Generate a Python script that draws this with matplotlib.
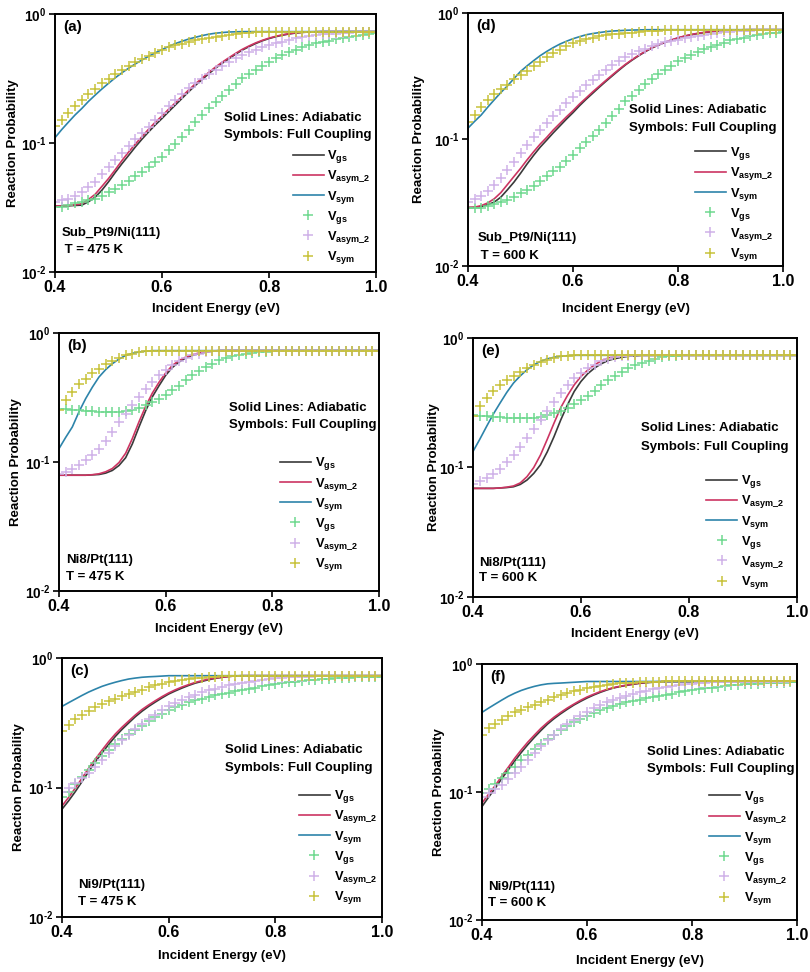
import numpy as np
import matplotlib
matplotlib.use("Agg")
import matplotlib.pyplot as plt
from matplotlib.ticker import FixedLocator, FuncFormatter, NullLocator

plt.rcParams['font.family'] = ['Liberation Sans', 'DejaVu Sans']
plt.rcParams['font.weight'] = 'bold'
plt.rcParams['mathtext.fontset'] = 'custom'
plt.rcParams['mathtext.rm'] = 'Liberation Sans:bold'
plt.rcParams['mathtext.it'] = 'Liberation Sans:bold'
plt.rcParams['mathtext.bf'] = 'Liberation Sans:bold'

# incident energy grid (eV), one point per symbol
energy = [0.4, 0.4125, 0.425, 0.4375, 0.45, 0.4625, 0.475, 0.4875, 0.5, 0.5125,
          0.525, 0.5375, 0.55, 0.5625, 0.575, 0.5875, 0.6, 0.6125, 0.625, 0.6375,
          0.65, 0.6625, 0.675, 0.6875, 0.7, 0.7125, 0.725, 0.7375, 0.75, 0.7625,
          0.775, 0.7875, 0.8, 0.8125, 0.825, 0.8375, 0.85, 0.8625, 0.875, 0.8875,
          0.9, 0.9125, 0.925, 0.9375, 0.95, 0.9625, 0.975, 0.9875, 1.0]

# (a) Sub_Pt9/Ni(111), 475 K
a_gs_line = [0.0324, 0.0324, 0.0326, 0.0328, 0.033, 0.035, 0.038, 0.043, 0.050, 0.059,
             0.069, 0.080, 0.093, 0.107, 0.122, 0.138, 0.155, 0.175, 0.197, 0.222,
             0.25, 0.28, 0.31, 0.345, 0.38, 0.415, 0.45, 0.488, 0.525, 0.558,
             0.59, 0.62, 0.645, 0.667, 0.685, 0.70, 0.712, 0.72, 0.725, 0.728,
             0.73, 0.73, 0.73, 0.73, 0.73, 0.73, 0.73, 0.73, 0.73]
a_asym_line = [0.0325, 0.0325, 0.0328, 0.0332, 0.0338, 0.0365, 0.040, 0.046, 0.053, 0.062,
               0.073, 0.085, 0.098, 0.112, 0.128, 0.145, 0.162, 0.183, 0.205, 0.23,
               0.258, 0.288, 0.318, 0.353, 0.388, 0.423, 0.458, 0.495, 0.532, 0.565,
               0.597, 0.625, 0.65, 0.671, 0.69, 0.704, 0.715, 0.722, 0.727, 0.729,
               0.73, 0.73, 0.73, 0.73, 0.73, 0.73, 0.73, 0.73, 0.73]
a_sym_line = [0.110, 0.127, 0.145, 0.165, 0.185, 0.21, 0.235, 0.262, 0.29, 0.32,
              0.35, 0.38, 0.41, 0.44, 0.47, 0.50, 0.53, 0.56, 0.59, 0.615,
              0.64, 0.66, 0.68, 0.697, 0.71, 0.718, 0.725, 0.728, 0.73, 0.73,
              0.73, 0.73, 0.73, 0.73, 0.73, 0.73, 0.73, 0.73, 0.73, 0.73,
              0.73, 0.73, 0.73, 0.73, 0.73, 0.73, 0.73, 0.73, 0.73]
a_gs_fc = [0.032, 0.032, 0.033, 0.034, 0.035, 0.036, 0.037, 0.039, 0.042, 0.044,
           0.047, 0.051, 0.055, 0.060, 0.065, 0.071, 0.078, 0.088, 0.099, 0.112,
           0.126, 0.145, 0.164, 0.186, 0.209, 0.232, 0.257, 0.287, 0.317, 0.343,
           0.37, 0.398, 0.427, 0.453, 0.48, 0.503, 0.525, 0.55, 0.575, 0.593,
           0.61, 0.623, 0.636, 0.652, 0.667, 0.677, 0.687, 0.698, 0.708]
a_asym_fc = [0.035, 0.036, 0.037, 0.039, 0.042, 0.046, 0.050, 0.057, 0.065, 0.074,
             0.083, 0.095, 0.108, 0.120, 0.133, 0.150, 0.170, 0.192, 0.215, 0.240,
             0.265, 0.290, 0.316, 0.341, 0.367, 0.396, 0.426, 0.453, 0.48, 0.503,
             0.525, 0.55, 0.575, 0.593, 0.61, 0.628, 0.647, 0.661, 0.675, 0.685,
             0.695, 0.70, 0.706, 0.711, 0.716, 0.72, 0.724, 0.727, 0.73]
a_sym_fc = [0.135, 0.152, 0.172, 0.193, 0.215, 0.238, 0.262, 0.29, 0.315, 0.34,
            0.367, 0.395, 0.425, 0.45, 0.475, 0.50, 0.525, 0.55, 0.572, 0.59,
            0.608, 0.625, 0.64, 0.655, 0.668, 0.68, 0.69, 0.70, 0.71, 0.718,
            0.724, 0.728, 0.73, 0.73, 0.73, 0.73, 0.73, 0.73, 0.73, 0.73,
            0.73, 0.73, 0.73, 0.73, 0.73, 0.73, 0.73, 0.73, 0.73]

# (b) Ni8/Pt(111), 475 K
b_gs_line = [0.079, 0.079, 0.079, 0.079, 0.079, 0.0795, 0.080, 0.082, 0.086, 0.094,
             0.108, 0.138, 0.187, 0.25, 0.32, 0.39, 0.47, 0.54, 0.596, 0.64,
             0.67, 0.693, 0.71, 0.722, 0.73, 0.73, 0.73, 0.73, 0.73, 0.73,
             0.73, 0.73, 0.73, 0.73, 0.73, 0.73, 0.73, 0.73, 0.73, 0.73,
             0.73, 0.73, 0.73, 0.73, 0.73, 0.73, 0.73, 0.73, 0.73]
b_asym_line = [0.079, 0.079, 0.079, 0.079, 0.079, 0.0797, 0.081, 0.084, 0.089, 0.099,
               0.117, 0.152, 0.205, 0.27, 0.342, 0.415, 0.49, 0.56, 0.612, 0.65,
               0.678, 0.70, 0.715, 0.725, 0.73, 0.73, 0.73, 0.73, 0.73, 0.73,
               0.73, 0.73, 0.73, 0.73, 0.73, 0.73, 0.73, 0.73, 0.73, 0.73,
               0.73, 0.73, 0.73, 0.73, 0.73, 0.73, 0.73, 0.73, 0.73]
b_sym_line = [0.127, 0.155, 0.187, 0.245, 0.31, 0.38, 0.456, 0.52, 0.578, 0.628,
              0.67, 0.695, 0.713, 0.723, 0.73, 0.73, 0.73, 0.73, 0.73, 0.73,
              0.73, 0.73, 0.73, 0.73, 0.73, 0.73, 0.73, 0.73, 0.73, 0.73,
              0.73, 0.73, 0.73, 0.73, 0.73, 0.73, 0.73, 0.73, 0.73, 0.73,
              0.73, 0.73, 0.73, 0.73, 0.73, 0.73, 0.73, 0.73, 0.73]
b_gs_fc = [0.259, 0.257, 0.255, 0.253, 0.25, 0.248, 0.246, 0.245, 0.244, 0.245,
           0.248, 0.255, 0.264, 0.276, 0.29, 0.31, 0.33, 0.36, 0.39, 0.43,
           0.47, 0.51, 0.545, 0.58, 0.614, 0.64, 0.66, 0.677, 0.69, 0.70,
           0.71, 0.717, 0.722, 0.726, 0.728, 0.73, 0.73, 0.73, 0.73, 0.73,
           0.73, 0.73, 0.73, 0.73, 0.73, 0.73, 0.73, 0.73, 0.73]
b_asym_fc = [0.081, 0.084, 0.089, 0.094, 0.103, 0.113, 0.127, 0.146, 0.171, 0.204,
             0.237, 0.275, 0.319, 0.37, 0.417, 0.47, 0.52, 0.56, 0.606, 0.64,
             0.67, 0.69, 0.71, 0.72, 0.727, 0.73, 0.73, 0.73, 0.73, 0.73,
             0.73, 0.73, 0.73, 0.73, 0.73, 0.73, 0.73, 0.73, 0.73, 0.73,
             0.73, 0.73, 0.73, 0.73, 0.73, 0.73, 0.73, 0.73, 0.73]
b_sym_fc = [0.254, 0.30, 0.35, 0.40, 0.44, 0.49, 0.53, 0.57, 0.606, 0.64,
            0.67, 0.69, 0.71, 0.72, 0.727, 0.73, 0.73, 0.73, 0.73, 0.73,
            0.73, 0.73, 0.73, 0.73, 0.73, 0.73, 0.73, 0.73, 0.73, 0.73,
            0.73, 0.73, 0.73, 0.73, 0.73, 0.73, 0.73, 0.73, 0.73, 0.73,
            0.73, 0.73, 0.73, 0.73, 0.73, 0.73, 0.73, 0.73, 0.73]

# (c) Ni9/Pt(111), 475 K
c_gs_line = [0.068, 0.079, 0.093, 0.111, 0.133, 0.158, 0.185, 0.215, 0.248, 0.281,
             0.315, 0.352, 0.388, 0.423, 0.457, 0.492, 0.527, 0.557, 0.586, 0.614,
             0.64, 0.66, 0.68, 0.696, 0.71, 0.72, 0.727, 0.73, 0.73, 0.73,
             0.73, 0.73, 0.73, 0.73, 0.73, 0.73, 0.73, 0.73, 0.73, 0.73,
             0.73, 0.73, 0.73, 0.73, 0.73, 0.73, 0.73, 0.73, 0.73]
c_asym_line = [0.072, 0.084, 0.099, 0.118, 0.141, 0.166, 0.194, 0.226, 0.259, 0.292,
               0.326, 0.363, 0.40, 0.434, 0.468, 0.503, 0.537, 0.568, 0.597, 0.623,
               0.648, 0.668, 0.688, 0.70, 0.71, 0.72, 0.727, 0.73, 0.73, 0.73,
               0.73, 0.73, 0.73, 0.73, 0.73, 0.73, 0.73, 0.73, 0.73, 0.73,
               0.73, 0.73, 0.73, 0.73, 0.73, 0.73, 0.73, 0.73, 0.73]
c_sym_line = [0.423, 0.452, 0.482, 0.514, 0.546, 0.575, 0.604, 0.628, 0.65, 0.67,
              0.688, 0.70, 0.71, 0.716, 0.72, 0.725, 0.73, 0.73, 0.73, 0.73,
              0.73, 0.73, 0.73, 0.73, 0.73, 0.73, 0.73, 0.73, 0.73, 0.73,
              0.73, 0.73, 0.73, 0.73, 0.73, 0.73, 0.73, 0.73, 0.73, 0.73,
              0.73, 0.73, 0.73, 0.73, 0.73, 0.73, 0.73, 0.73, 0.73]
c_gs_fc = [0.085, 0.093, 0.107, 0.12, 0.137, 0.154, 0.174, 0.196, 0.218, 0.237,
           0.259, 0.28, 0.30, 0.324, 0.348, 0.372, 0.395, 0.416, 0.436, 0.455,
           0.47, 0.485, 0.50, 0.514, 0.527, 0.54, 0.552, 0.564, 0.576, 0.59,
           0.605, 0.616, 0.626, 0.637, 0.648, 0.656, 0.664, 0.672, 0.68, 0.687,
           0.693, 0.697, 0.70, 0.705, 0.71, 0.712, 0.713, 0.713, 0.713]
c_asym_fc = [0.093, 0.099, 0.108, 0.118, 0.13, 0.145, 0.164, 0.185, 0.208, 0.231,
             0.256, 0.283, 0.311, 0.338, 0.366, 0.395, 0.423, 0.449, 0.476, 0.50,
             0.52, 0.542, 0.563, 0.58, 0.597, 0.614, 0.63, 0.643, 0.655, 0.668,
             0.68, 0.688, 0.696, 0.705, 0.71, 0.713, 0.716, 0.718, 0.72, 0.722,
             0.724, 0.725, 0.726, 0.727, 0.728, 0.729, 0.73, 0.73, 0.73]
c_sym_fc = [0.271, 0.305, 0.338, 0.366, 0.392, 0.418, 0.44, 0.463, 0.485, 0.505,
            0.527, 0.546, 0.57, 0.594, 0.615, 0.633, 0.65, 0.666, 0.68, 0.69,
            0.70, 0.705, 0.71, 0.715, 0.72, 0.722, 0.725, 0.727, 0.728, 0.73,
            0.73, 0.73, 0.73, 0.73, 0.73, 0.73, 0.73, 0.73, 0.73, 0.73,
            0.73, 0.73, 0.73, 0.73, 0.73, 0.73, 0.73, 0.73, 0.73]

# (d) Sub_Pt9/Ni(111), 600 K
d_gs_line = [0.029, 0.029, 0.0295, 0.0305, 0.032, 0.035, 0.040, 0.046, 0.054, 0.064,
             0.075, 0.087, 0.099, 0.113, 0.128, 0.145, 0.163, 0.185, 0.208, 0.232,
             0.259, 0.288, 0.319, 0.353, 0.389, 0.424, 0.459, 0.494, 0.528, 0.557,
             0.585, 0.61, 0.634, 0.655, 0.673, 0.688, 0.70, 0.711, 0.72, 0.726,
             0.73, 0.734, 0.737, 0.738, 0.738, 0.738, 0.738, 0.738, 0.738]
d_asym_line = [0.029, 0.0292, 0.030, 0.0315, 0.034, 0.038, 0.044, 0.051, 0.059, 0.069,
               0.08, 0.092, 0.104, 0.119, 0.134, 0.151, 0.169, 0.191, 0.213, 0.238,
               0.264, 0.293, 0.324, 0.358, 0.393, 0.428, 0.463, 0.498, 0.532, 0.56,
               0.588, 0.613, 0.637, 0.658, 0.676, 0.691, 0.703, 0.713, 0.722, 0.728,
               0.732, 0.735, 0.737, 0.738, 0.738, 0.738, 0.738, 0.738, 0.738]
d_sym_line = [0.123, 0.139, 0.156, 0.18, 0.206, 0.235, 0.265, 0.303, 0.345, 0.382,
              0.42, 0.46, 0.497, 0.533, 0.568, 0.598, 0.626, 0.65, 0.673, 0.688,
              0.70, 0.712, 0.72, 0.725, 0.73, 0.733, 0.735, 0.737, 0.738, 0.738,
              0.738, 0.738, 0.738, 0.738, 0.738, 0.738, 0.738, 0.738, 0.738, 0.738,
              0.738, 0.738, 0.738, 0.738, 0.738, 0.738, 0.738, 0.738, 0.738]
d_gs_fc = [0.0285, 0.0287, 0.029, 0.030, 0.031, 0.032, 0.033, 0.035, 0.0375, 0.040,
           0.043, 0.047, 0.051, 0.056, 0.061, 0.068, 0.075, 0.085, 0.095, 0.107,
           0.119, 0.135, 0.152, 0.175, 0.20, 0.222, 0.247, 0.273, 0.30, 0.327,
           0.355, 0.384, 0.414, 0.44, 0.467, 0.492, 0.518, 0.539, 0.56, 0.584,
           0.607, 0.623, 0.64, 0.655, 0.67, 0.682, 0.694, 0.70, 0.707]
d_asym_fc = [0.032, 0.034, 0.036, 0.039, 0.044, 0.05, 0.057, 0.067, 0.078, 0.091,
             0.105, 0.119, 0.134, 0.152, 0.171, 0.194, 0.218, 0.243, 0.27, 0.297,
             0.325, 0.357, 0.39, 0.42, 0.45, 0.475, 0.50, 0.523, 0.545, 0.565,
             0.585, 0.60, 0.615, 0.63, 0.645, 0.657, 0.67, 0.682, 0.694, 0.702,
             0.71, 0.716, 0.722, 0.726, 0.73, 0.732, 0.733, 0.734, 0.735]
d_sym_fc = [0.138, 0.156, 0.182, 0.205, 0.229, 0.25, 0.27, 0.30, 0.325, 0.35,
            0.38, 0.41, 0.45, 0.48, 0.51, 0.545, 0.578, 0.60, 0.623, 0.638,
            0.653, 0.665, 0.677, 0.684, 0.69, 0.70, 0.71, 0.715, 0.72, 0.726,
            0.732, 0.735, 0.738, 0.738, 0.738, 0.738, 0.738, 0.738, 0.738, 0.738,
            0.738, 0.738, 0.738, 0.738, 0.738, 0.738, 0.738, 0.738, 0.738]

# (e) Ni8/Pt(111), 600 K
e_gs_line = [0.069, 0.069, 0.069, 0.069, 0.0695, 0.070, 0.071, 0.074, 0.080, 0.09,
             0.105, 0.132, 0.173, 0.233, 0.305, 0.387, 0.462, 0.53, 0.586, 0.632,
             0.67, 0.692, 0.71, 0.722, 0.73, 0.735, 0.735, 0.735, 0.735, 0.735,
             0.735, 0.735, 0.735, 0.735, 0.735, 0.735, 0.735, 0.735, 0.735, 0.735,
             0.735, 0.735, 0.735, 0.735, 0.735, 0.735, 0.735, 0.735, 0.735]
e_asym_line = [0.069, 0.069, 0.069, 0.069, 0.0695, 0.0705, 0.072, 0.076, 0.085, 0.10,
               0.125, 0.165, 0.22, 0.29, 0.36, 0.435, 0.505, 0.565, 0.62, 0.665,
               0.70, 0.718, 0.73, 0.735, 0.735, 0.735, 0.735, 0.735, 0.735, 0.735,
               0.735, 0.735, 0.735, 0.735, 0.735, 0.735, 0.735, 0.735, 0.735, 0.735,
               0.735, 0.735, 0.735, 0.735, 0.735, 0.735, 0.735, 0.735, 0.735]
e_sym_line = [0.133, 0.165, 0.207, 0.258, 0.314, 0.38, 0.449, 0.51, 0.569, 0.62,
              0.66, 0.69, 0.71, 0.722, 0.73, 0.735, 0.735, 0.735, 0.735, 0.735,
              0.735, 0.735, 0.735, 0.735, 0.735, 0.735, 0.735, 0.735, 0.735, 0.735,
              0.735, 0.735, 0.735, 0.735, 0.735, 0.735, 0.735, 0.735, 0.735, 0.735,
              0.735, 0.735, 0.735, 0.735, 0.735, 0.735, 0.735, 0.735, 0.735]
e_gs_fc = [0.255, 0.252, 0.25, 0.247, 0.245, 0.242, 0.241, 0.24, 0.24, 0.242,
           0.247, 0.254, 0.263, 0.275, 0.29, 0.31, 0.333, 0.358, 0.387, 0.43,
           0.476, 0.513, 0.55, 0.585, 0.62, 0.645, 0.67, 0.69, 0.71, 0.72,
           0.73, 0.733, 0.735, 0.735, 0.735, 0.735, 0.735, 0.735, 0.735, 0.735,
           0.735, 0.735, 0.735, 0.735, 0.735, 0.735, 0.735, 0.735, 0.735]
e_asym_fc = [0.075, 0.078, 0.083, 0.089, 0.098, 0.11, 0.125, 0.145, 0.168, 0.20,
             0.233, 0.275, 0.323, 0.375, 0.435, 0.49, 0.535, 0.586, 0.62, 0.66,
             0.69, 0.71, 0.725, 0.732, 0.735, 0.735, 0.735, 0.735, 0.735, 0.735,
             0.735, 0.735, 0.735, 0.735, 0.735, 0.735, 0.735, 0.735, 0.735, 0.735,
             0.735, 0.735, 0.735, 0.735, 0.735, 0.735, 0.735, 0.735, 0.735]
e_sym_fc = [0.248, 0.296, 0.343, 0.39, 0.435, 0.476, 0.51, 0.55, 0.586, 0.62,
            0.65, 0.68, 0.70, 0.72, 0.73, 0.735, 0.735, 0.735, 0.735, 0.735,
            0.735, 0.735, 0.735, 0.735, 0.735, 0.735, 0.735, 0.735, 0.735, 0.735,
            0.735, 0.735, 0.735, 0.735, 0.735, 0.735, 0.735, 0.735, 0.735, 0.735,
            0.735, 0.735, 0.735, 0.735, 0.735, 0.735, 0.735, 0.735, 0.735]

# (f) Ni9/Pt(111), 600 K
f_gs_line = [0.077, 0.091, 0.107, 0.127, 0.149, 0.175, 0.204, 0.235, 0.268, 0.303,
             0.34, 0.375, 0.409, 0.443, 0.478, 0.51, 0.542, 0.572, 0.60, 0.626,
             0.649, 0.666, 0.68, 0.694, 0.706, 0.714, 0.72, 0.725, 0.73, 0.73,
             0.73, 0.73, 0.73, 0.73, 0.73, 0.73, 0.73, 0.73, 0.73, 0.73,
             0.73, 0.73, 0.73, 0.73, 0.73, 0.73, 0.73, 0.73, 0.73]
f_asym_line = [0.082, 0.096, 0.112, 0.133, 0.156, 0.184, 0.214, 0.246, 0.279, 0.315,
               0.35, 0.385, 0.419, 0.453, 0.486, 0.52, 0.552, 0.58, 0.608, 0.632,
               0.653, 0.67, 0.684, 0.698, 0.71, 0.718, 0.724, 0.728, 0.73, 0.73,
               0.73, 0.73, 0.73, 0.73, 0.73, 0.73, 0.73, 0.73, 0.73, 0.73,
               0.73, 0.73, 0.73, 0.73, 0.73, 0.73, 0.73, 0.73, 0.73]
f_sym_line = [0.419, 0.452, 0.486, 0.522, 0.559, 0.592, 0.622, 0.647, 0.669, 0.687,
              0.70, 0.706, 0.71, 0.715, 0.72, 0.725, 0.73, 0.73, 0.73, 0.73,
              0.73, 0.73, 0.73, 0.73, 0.73, 0.73, 0.73, 0.73, 0.73, 0.73,
              0.73, 0.73, 0.73, 0.73, 0.73, 0.73, 0.73, 0.73, 0.73, 0.73,
              0.73, 0.73, 0.73, 0.73, 0.73, 0.73, 0.73, 0.73, 0.73]
f_gs_fc = [0.098, 0.105, 0.116, 0.128, 0.142, 0.158, 0.177, 0.196, 0.217, 0.238,
           0.259, 0.28, 0.303, 0.326, 0.35, 0.372, 0.394, 0.414, 0.434, 0.453,
           0.472, 0.487, 0.501, 0.514, 0.526, 0.539, 0.552, 0.564, 0.576, 0.588,
           0.60, 0.611, 0.622, 0.634, 0.645, 0.655, 0.664, 0.672, 0.68, 0.687,
           0.693, 0.697, 0.70, 0.705, 0.71, 0.713, 0.715, 0.718, 0.72]
f_asym_fc = [0.092, 0.098, 0.105, 0.114, 0.126, 0.14, 0.158, 0.178, 0.201, 0.227,
             0.253, 0.28, 0.31, 0.34, 0.367, 0.394, 0.424, 0.453, 0.478, 0.501,
             0.526, 0.546, 0.565, 0.585, 0.604, 0.62, 0.637, 0.65, 0.664, 0.675,
             0.685, 0.693, 0.70, 0.71, 0.715, 0.718, 0.72, 0.722, 0.723, 0.724,
             0.725, 0.726, 0.727, 0.728, 0.728, 0.729, 0.729, 0.73, 0.73]
f_sym_fc = [0.28, 0.316, 0.341, 0.367, 0.394, 0.419, 0.44, 0.461, 0.48, 0.501,
            0.526, 0.549, 0.57, 0.593, 0.611, 0.63, 0.649, 0.663, 0.677, 0.69,
            0.70, 0.705, 0.71, 0.714, 0.717, 0.72, 0.723, 0.726, 0.73, 0.73,
            0.73, 0.73, 0.73, 0.73, 0.73, 0.73, 0.73, 0.73, 0.73, 0.73,
            0.73, 0.73, 0.73, 0.73, 0.73, 0.73, 0.73, 0.73, 0.73]

series_labels = [r'V$_{gs}$', r'V$_{asym\_2}$', r'V$_{sym}$']
line_colors = ['#3a3a3a', '#cc3562', '#2d84aa']
sym_colors = ['#6fd98f', '#cfb2e8', '#c8c23a']

# panel: data, label, system, temperature, axes box in px (l, t, r, b),
# note position, sample text position, legend position, label offsets (px)
panels = [
    ([a_gs_line, a_asym_line, a_sym_line], [a_gs_fc, a_asym_fc, a_sym_fc],
     '(a)', 'Sub_Pt9/Ni(111)', ' T = 475 K', (55, 14, 376, 272),
     (0.527, 0.597, 0.531), (0.02, 0.151, 0.085), (0.74, 0.054), (43, 38)),
    ([b_gs_line, b_asym_line, b_sym_line], [b_gs_fc, b_asym_fc, b_sym_fc],
     '(b)', 'Ni8/Pt(111)', 'T = 475 K', (59, 333, 379, 591),
     (0.53, 0.709, 0.643), (0.022, 0.12, 0.054), (0.69, 0.10), (44, 39)),
    ([c_gs_line, c_asym_line, c_sym_line], [c_gs_fc, c_asym_fc, c_sym_fc],
     '(c)', 'Ni9/Pt(111)', 'T = 475 K', (62, 658, 382, 917),
     (0.51, 0.645, 0.575), (0.05, 0.124, 0.058), (0.74, 0.073), (44, 40)),
    ([d_gs_line, d_asym_line, d_sym_line], [d_gs_fc, d_asym_fc, d_sym_fc],
     '(d)', 'Sub_Pt9/Ni(111)', ' T = 600 K', (468, 13, 783, 266),
     (0.51, 0.617, 0.545), (0.03, 0.11, 0.04), (0.72, 0.043), (50, 44)),
    ([e_gs_line, e_asym_line, e_sym_line], [e_gs_fc, e_asym_fc, e_sym_fc],
     '(e)', 'Ni8/Pt(111)', 'T = 600 K', (473, 338, 797, 597),
     (0.52, 0.652, 0.579), (0.02, 0.13, 0.073), (0.72, 0.054), (41, 38)),
    ([f_gs_line, f_asym_line, f_sym_line], [f_gs_fc, f_asym_fc, f_sym_fc],
     '(f)', 'Ni9/Pt(111)', 'T = 600 K', (482, 664, 797, 920),
     (0.524, 0.656, 0.59), (0.02, 0.129, 0.066), (0.72, 0.082), (45, 42)),
]


def log_label(v, pos):
    e = int(round(np.log10(v)))
    if e < 0:
        return '$\\mathbf{10^{\u2010%d}}$' % (-e)
    return '$\\mathbf{10^{%d}}$' % e


W, H = 810, 972
fig = plt.figure(figsize=(W / 100, H / 100), dpi=100)

for lines, syms, tag, system, temp, box, note, samp, leg, offs in panels:
    l, t, r, b = box
    aw, ah = r - l, b - t
    ax = fig.add_axes([l / W, 1 - b / H, aw / W, ah / H])
    ax.set_yscale('log')
    handles = []
    for vals, c, lab in zip(lines, line_colors, series_labels):
        h, = ax.plot(energy, vals, '-', color=c, lw=1.2, label=lab)
        handles.append(h)
    for vals, c, lab in zip(syms, sym_colors, series_labels):
        h, = ax.plot(energy, vals, '+', color=c, ms=6.5, mew=1.1, label=lab)
        handles.append(h)

    ax.set_xlim(0.4, 1.0)
    ax.set_ylim(1e-2, 1)
    ax.xaxis.set_major_locator(FixedLocator([0.4, 0.6, 0.8, 1.0]))
    ax.xaxis.set_major_formatter(FuncFormatter(lambda v, p: '%.1f' % v))
    ax.yaxis.set_major_locator(FixedLocator([1e-2, 1e-1, 1]))
    ax.yaxis.set_minor_locator(NullLocator())
    ax.yaxis.set_major_formatter(FuncFormatter(log_label))
    ax.tick_params(direction='out', length=4, width=1.2, pad=2)
    ax.tick_params(axis='x', labelsize=11.5)
    ax.tick_params(axis='y', labelsize=9.8)
    for s in ax.spines.values():
        s.set_linewidth(1.4)
    ax.set_xlabel('Incident Energy (eV)', fontsize=9.5, fontweight='bold')
    ax.set_ylabel('Reaction Probability', fontsize=9.5, fontweight='bold')
    ax.yaxis.set_label_coords(-(offs[0] - 7.5) / aw, 0.5)
    ax.xaxis.set_label_coords(0.5, -(offs[1] - 7.5) / ah)

    ax.text(0.025, 0.975, tag, transform=ax.transAxes, ha='left', va='top',
            fontsize=11, fontweight='bold')
    ax.text(note[0], note[1], 'Solid Lines: Adiabatic', transform=ax.transAxes,
            ha='left', va='center', fontsize=9.5, fontweight='bold')
    ax.text(note[0], note[2], 'Symbols: Full Coupling', transform=ax.transAxes,
            ha='left', va='center', fontsize=9.5, fontweight='bold')
    ax.text(samp[0], samp[1], system, transform=ax.transAxes,
            ha='left', va='center', fontsize=9.5, fontweight='bold')
    ax.text(samp[0], samp[2], temp, transform=ax.transAxes,
            ha='left', va='center', fontsize=9.5, fontweight='bold')

    ax.legend(handles=handles, loc='lower left', bbox_to_anchor=(leg[0], leg[1] - 0.032),
              frameon=False, fontsize=9.3, handlelength=2.4, handletextpad=0.3,
              labelspacing=0.25, borderpad=0, borderaxespad=0, numpoints=1)

fig.savefig('out.png', dpi=100)
